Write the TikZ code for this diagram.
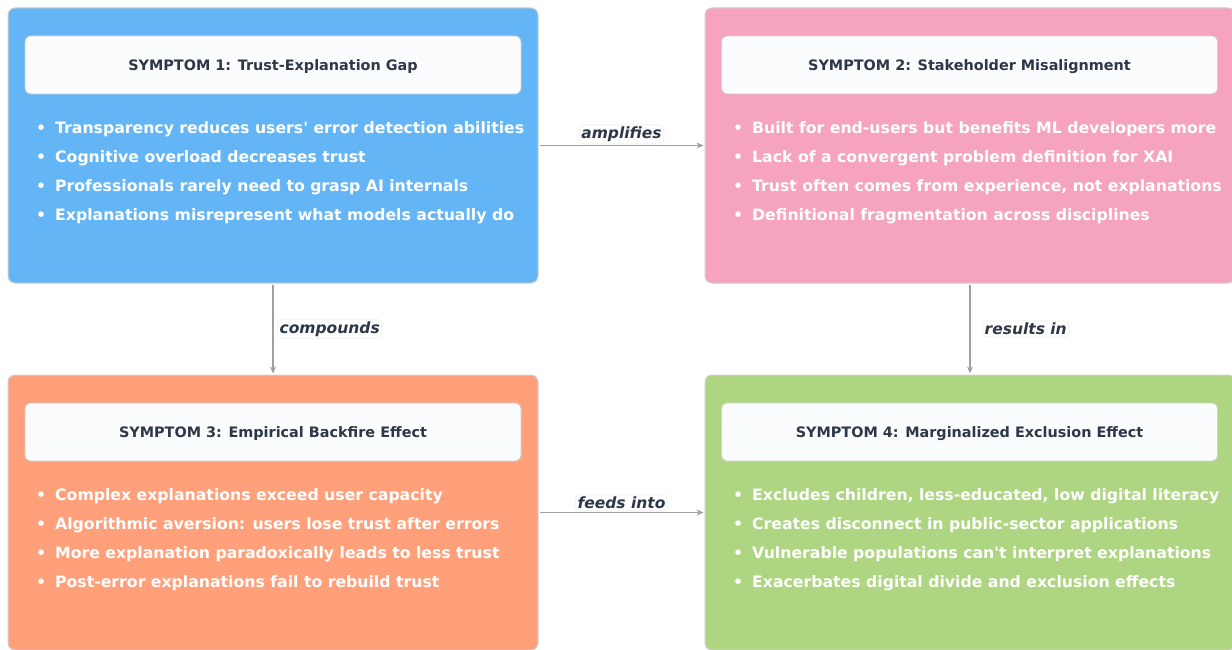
\documentclass[tikz,border=0pt]{standalone}
\usepackage{fontspec}
\setmainfont{DejaVu Sans}
\usetikzlibrary{arrows.meta}
\definecolor{cblue}{HTML}{64B5F6}
\definecolor{cpink}{HTML}{F5A3BF}
\definecolor{csalmon}{HTML}{FFA07A}
\definecolor{cgreen}{HTML}{AED581}
\definecolor{ink}{HTML}{2D3748}
\definecolor{edgegray}{HTML}{A0A0A0}
\definecolor{framegray}{HTML}{D0D0D0}
\definecolor{headfill}{HTML}{FBFCFE}
\begin{document}
\begin{tikzpicture}[x=1pt,y=-1pt,
 panel/.style={draw=framegray, line width=1pt, rounded corners=7pt, minimum width=530pt, minimum height=275pt, inner sep=0pt},
 header/.style={draw=framegray, fill=headfill, line width=0.8pt, rounded corners=6pt, minimum width=496pt, minimum height=58pt, inner sep=0pt, text height=10.5pt, text depth=0pt, font=\fontsize{14.4}{16}\selectfont\bfseries, text=ink},
 item/.style={anchor=base west, inner sep=0pt, text=white, font=\fontsize{15.7}{18}\selectfont\bfseries},
 link/.style={draw=edgegray, line width=1.3pt, shorten >=1pt, shorten <=1pt, -{Stealth[length=7pt,width=6pt]}},
 lbl/.style={fill=white, draw=black!4, rounded corners=4pt, inner sep=2pt, text=ink, font=\fontsize{15.5}{17}\selectfont\bfseries\itshape}
]
\useasboundingbox (0,0) rectangle (1232,650);
\clip (0,0) rectangle (1232,650);
\newcommand{\bul}{\makebox[19pt][l]{•}}
% panels
\node[panel, fill=cblue] (p1) at (273,145.5) {};
\node[panel, fill=cpink] (p2) at (970,145.5) {};
\node[panel, fill=csalmon] (p3) at (273,512.5) {};
\node[panel, fill=cgreen] (p4) at (970,512.5) {};
% headers
\node[header] (h1) at (273,65) {SYMPTOM 1: Trust-Explanation Gap};
\node[header] (h2) at (969.5,65) {SYMPTOM 2: Stakeholder Misalignment};
\node[header] (h3) at (273,432) {SYMPTOM 3: Empirical Backfire Effect};
\node[header] (h4) at (969.5,432) {SYMPTOM 4: Marginalized Exclusion Effect};
% items 1
\node[item] (a1) at (36,133.5) {\bul Transparency reduces users\textquotesingle{} error detection abilities};
\node[item] (a2) at (36,162.5) {\bul Cognitive overload decreases trust};
\node[item] (a3) at (36,191.5) {\bul Professionals rarely need to grasp AI internals};
\node[item] (a4) at (36,220.5) {\bul Explanations misrepresent what models actually do};
% items 2
\node[item] (b1) at (733,133.5) {\bul Built for end-users but benefits ML developers more};
\node[item] (b2) at (733,162.5) {\bul Lack of a convergent problem definition for XAI};
\node[item] (b3) at (733,191.5) {\bul Trust often comes from experience, not explanations};
\node[item] (b4) at (733,220.5) {\bul Definitional fragmentation across disciplines};
% items 3
\node[item] (c1) at (36,500.5) {\bul Complex explanations exceed user capacity};
\node[item] (c2) at (36,529.5) {\bul Algorithmic aversion: users lose trust after errors};
\node[item] (c3) at (36,558.5) {\bul More explanation paradoxically leads to less trust};
\node[item] (c4) at (36,587.5) {\bul Post-error explanations fail to rebuild trust};
% items 4
\node[item] (d1) at (733,500.5) {\bul Excludes children, less-educated, low digital literacy};
\node[item] (d2) at (733,529.5) {\bul Creates disconnect in public-sector applications};
\node[item] (d3) at (733,558.5) {\bul Vulnerable populations can\textquotesingle{}t interpret explanations};
\node[item] (d4) at (733,587.5) {\bul Exacerbates digital divide and exclusion effects};
% connectors
\draw[link] (p1.east) -- node[lbl, midway, above=1pt] (l1) {amplifies} (p2.west);
\draw[link] (p1.south) -- node[lbl, midway, right=4pt] (l2) {compounds} (p3.north);
\draw[link] (p2.south) -- node[lbl, midway, right=12pt] (l3) {results in} (p4.north);
\draw[link] (p3.east) -- node[lbl, midway, above=1pt] (l4) {feeds into} (p4.west);
\end{tikzpicture}
\end{document}
